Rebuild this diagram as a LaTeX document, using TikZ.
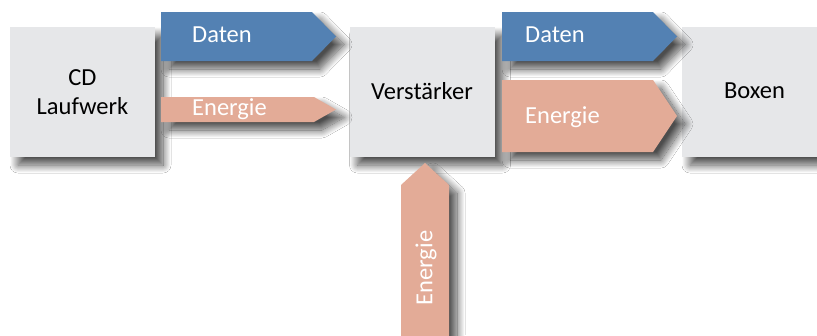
\documentclass[tikz,border=0pt]{standalone}
\usepackage{fontspec}
\setmainfont{Carlito}
\usetikzlibrary{shadows.blur}
\definecolor{boxgray}{HTML}{E6E7E9}
\definecolor{datablue}{HTML}{5381B3}
\definecolor{energysalmon}{HTML}{E3AB97}
\tikzset{
  shad/.style={blur shadow={shadow xshift=8pt,shadow yshift=-8pt,shadow blur radius=8pt,shadow opacity=70,shadow blur steps=16}},
  unitbox/.style={shad,fill=boxgray,minimum width=145pt,minimum height=130pt,inner sep=0pt,align=center,
    font=\fontsize{24.5}{29}\selectfont,text=black},
  arrowtext/.style={text=white,font=\fontsize{24.5}{29}\selectfont,inner sep=0pt,anchor=west},
  dataarrow/.style={shad,fill=datablue},
  energyarrow/.style={shad,fill=energysalmon}
}
\begin{document}
\begin{tikzpicture}[x=1pt,y=-1pt]
\useasboundingbox (0,0) rectangle (817,335);
\fill[white] (0,0) rectangle (817,335);
% boxes
\node[unitbox] (cd) at (82.5,92) {CD\\Laufwerk};
\node[unitbox] (amp) at (422,92) {\raisebox{3pt}{Verstärker}};
\node[unitbox] (box) at (754.5,92) {\raisebox{3pt}{Boxen}};
% arrows CD -> amp
\fill[dataarrow] (161,12) -- (312,12) -- (336,36.5) -- (312,61) -- (161,61) -- cycle;
\node[arrowtext] (d1) at (192,35) {Daten};
\fill[energyarrow] (161,97) -- (314,97) -- (336,109.5) -- (314,122) -- (161,122) -- cycle;
\node[arrowtext] (e1) at (192,109.5) {Energie};
% arrows amp -> boxen
\fill[dataarrow] (502,12) -- (653,12) -- (677,36.5) -- (653,61) -- (502,61) -- cycle;
\node[arrowtext] (d2) at (525,35) {Daten};
\fill[energyarrow] (502,80) -- (653,80) -- (677,116) -- (653,152) -- (502,152) -- cycle;
\node[arrowtext] (e2) at (525,117) {Energie};
% vertical energy arrow
\fill[energyarrow] (401,345) -- (401,185) -- (425,163) -- (449,185) -- (449,345) -- cycle;
\node[arrowtext,anchor=center,rotate=90] (e3) at (426,268) {Energie};
\end{tikzpicture}
\end{document}
